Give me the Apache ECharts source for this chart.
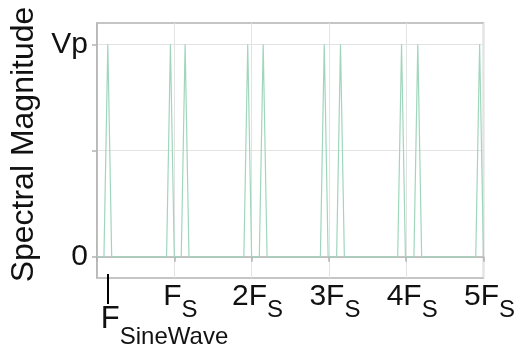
<!DOCTYPE html>
<html>
<head>
<meta charset="utf-8">
<script src="https://cdn.jsdelivr.net/npm/echarts@6/dist/echarts.min.js"></script>
<style>
    html, body { margin: 0; padding: 0; background: #fff; }
    #chart { width: 518px; height: 351px; }
</style>
</head>
<body>
<div id="chart"></div>
<script>
// frequency in units of Fs, magnitude in units of Vp
const freq = [
    0,
    0.09, 0.14, 0.19,
    0.90, 0.95, 1.00,
    1.09, 1.14, 1.19,
    1.90, 1.95, 2.00,
    2.10, 2.15, 2.20,
    2.89, 2.94, 2.99,
    3.10, 3.15, 3.20,
    3.89, 3.94, 3.99,
    4.10, 4.15, 4.20,
    4.90, 4.95, 5.00
];
const magnitude = [
    0,
    0, 1, 0,
    0, 1, 0,
    0, 1, 0,
    0, 1, 0,
    0, 1, 0,
    0, 1, 0,
    0, 1, 0,
    0, 1, 0,
    0, 1, 0,
    0, 1, 0
];
const xTickValues = [0, 1, 2, 3, 4, 5];
const xLabelValues = [1, 2, 3, 4, 5];
const xTickLabels = ['', '2', '3', '4', '5'];
const sineFreq = 0.14;
const yTickValues = [0, 0.5, 1];
const yLabelValues = [0, 1];
const yTickLabels = ['0', 'Vp'];

const font = 'Liberation Sans';
const textColor = '#111';
const gridColor = '#e3e3e3';
const axisColor = '#b3b3b3';

const rich = {
    m: { fontSize: 30, fontFamily: font, color: textColor, lineHeight: 30 },
    s: { fontSize: 24, fontFamily: font, color: textColor, lineHeight: 24, padding: [26, 0, 0, 0] }
};
const sineRich = {
    m: { fontSize: 31, fontFamily: font, color: textColor, lineHeight: 31 },
    s: { fontSize: 24, fontFamily: font, color: textColor, lineHeight: 24, padding: [36, 0, 0, 0] }
};

const chartOpt = () => {
    return {
        animation: false,
        grid: {
            left: 97,
            right: 33,
            top: 23,
            bottom: 73,
            show: true,
            borderColor: axisColor,
            borderWidth: 1.5
        },
        xAxis: [
            {
                type: 'value',
                min: 0,
                max: 5,
                axisLine: { lineStyle: { color: axisColor, width: 1.5 } },
                axisTick: {
                    customValues: xTickValues,
                    length: 5,
                    lineStyle: { color: axisColor, width: 1.5 }
                },
                splitLine: { show: true, lineStyle: { color: gridColor, width: 1 } },
                axisLabel: {
                    customValues: xLabelValues,
                    margin: 4,
                    padding: [0, 0, 0, 12],
                    rich: rich,
                    formatter: function (v) {
                        const i = xLabelValues.indexOf(v);
                        return '{m|' + xTickLabels[i] + 'F}{s|S}';
                    }
                }
            },
            {
                type: 'value',
                min: 0,
                max: 5,
                position: 'bottom',
                offset: -4,
                axisLine: { show: false },
                splitLine: { show: false },
                axisTick: {
                    customValues: [sineFreq],
                    length: 30,
                    lineStyle: { color: '#000', width: 2 }
                },
                axisLabel: {
                    customValues: [sineFreq],
                    margin: 30,
                    align: 'left',
                    padding: [0, 0, 0, -7],
                    rich: sineRich,
                    formatter: function () {
                        return '{m|F}{s|SineWave}';
                    }
                }
            }
        ],
        yAxis: {
            type: 'value',
            min: -0.1,
            max: 1.1,
            name: 'Spectral Magnitude',
            nameLocation: 'middle',
            nameGap: 57,
            nameTextStyle: { fontSize: 32, fontFamily: font, color: textColor, padding: [0, 0, 0, 12] },
            axisLine: { show: true, lineStyle: { color: axisColor, width: 1.5 } },
            axisTick: {
                show: true,
                customValues: yTickValues,
                length: 5,
                lineStyle: { color: axisColor, width: 1.5 }
            },
            splitLine: { show: true, lineStyle: { color: gridColor, width: 1 } },
            axisLabel: {
                customValues: yLabelValues,
                margin: 9,
                fontSize: 30,
                fontFamily: font,
                color: textColor,
                formatter: function (v) {
                    return yTickLabels[yLabelValues.indexOf(v)];
                }
            }
        },
        series: [
            {
                type: 'line',
                xAxisIndex: 0,
                data: freq.map((f, i) => [f, magnitude[i]]),
                showSymbol: false,
                lineStyle: { color: '#9fd6bc', width: 1.2 }
            }
        ]
    };
};

const chart = echarts.init(document.getElementById('chart'));
chart.setOption(chartOpt());
</script>
</body>
</html>
